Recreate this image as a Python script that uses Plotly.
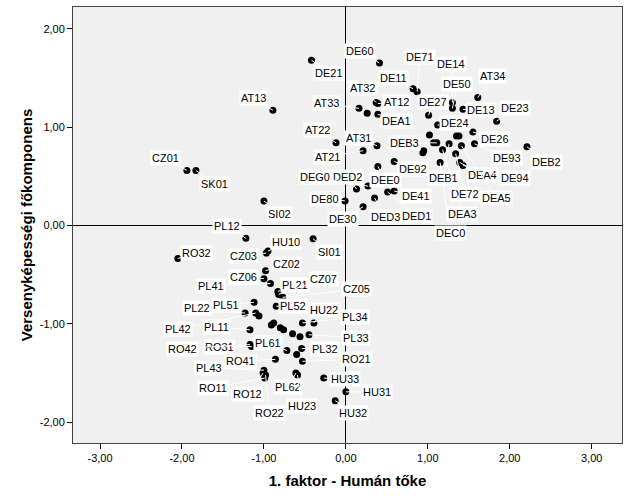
import plotly.graph_objects as go

# ---- data (x = 1. faktor, y = főkomponens) ----
labels = ["DE60","DE21","DE71","DE11","DE14","DE50","AT34","DE13","DE23","AT32","AT12","AT33","","DEA1",
          "DE27","DE24","DE26","DE93","DEB2","DEA4","DE94","DE72","DEA5","DEA3","DEC0","DEB1","DEB3","DE92",
          "","","","","","",
          "DEE0","DED2","DEG0","DE80","DE30","DED3","DED1","DE41","AT22","AT31","AT21",
          "AT13","CZ01","SK01","SI02","PL12","SI01","HU10","CZ03","RO32","CZ02","CZ06","PL41","PL21","CZ07","CZ05",
          "PL51","PL52","PL22","PL42","","HU22","PL34","PL11","","","","","","","PL33",
          "RO31","RO42","PL61","PL32","","RO21","RO41","PL43","RO12","RO11","RO22","PL62","HU23","HU33","HU31","HU32"]
xs = [0.41,-0.42,0.87,0.82,1.30,1.30,1.61,1.43,1.84,0.37,0.39,0.16,0.26,0.39,
      1.01,1.12,1.55,1.57,2.21,1.39,1.43,1.34,1.41,1.18,1.15,1.26,1.11,0.59,
      1.02,1.07,0.94,0.95,1.35,1.38,
      0.39,0.13,0.27,-0.01,0.21,0.35,0.51,0.59,-0.12,0.38,0.21,
      -0.89,-1.94,-1.83,-1.00,-1.22,-0.40,-0.95,-0.97,-2.05,-0.98,-1.00,-0.92,-0.83,-0.82,-0.77,
      -1.12,-0.85,-1.23,-1.10,-1.06,-0.39,-0.53,-1.17,-0.91,-0.88,-0.80,-0.76,-0.65,-0.56,-0.45,
      -1.15,-1.17,-0.72,-0.54,-0.60,-0.53,-0.86,-1.00,-1.01,-0.99,-0.98,-0.61,-0.59,-0.27,0.00,-0.13]
ys = [1.65,1.68,1.36,1.39,1.25,1.19,1.30,1.18,1.06,1.25,1.24,1.19,1.14,1.13,
      1.12,1.02,0.95,0.83,0.80,0.64,0.61,0.73,0.81,0.77,0.64,0.83,0.84,0.65,
      0.92,0.84,0.74,0.76,0.91,0.91,
      0.60,0.37,0.40,0.25,0.19,0.28,0.34,0.35,0.84,0.81,0.76,
      1.17,0.56,0.56,0.25,-0.13,-0.135,-0.26,-0.28,-0.335,-0.46,-0.54,-0.59,-0.67,-0.70,-0.73,
      -0.78,-0.82,-0.89,-0.89,-0.92,-0.99,-0.99,-1.06,-1.01,-0.99,-1.04,-1.06,-1.10,-1.13,-1.11,
      -1.23,-1.21,-1.27,-1.25,-1.31,-1.38,-1.36,-1.47,-1.50,-1.55,-1.52,-1.50,-1.52,-1.55,-1.69,-1.78]

tick_vals = [-3, -2, -1, 0, 1, 2, 3]
x_tick_text = ["-3,00", "-2,00", "-1,00", "0,00", "1,00", "2,00", "3,00"]
y_tick_vals = [-2, -1, 0, 1, 2]
y_tick_text = ["-2,00", "-1,00", "0,00", "1,00", "2,00"]

# label offsets in pixels (text centre relative to point)
offsets = [(-19,-12),(18,13),(3,-35),(-20,-11),(-1,-38),(5,-24),(15,-22),(18,1),(18,-13),(-14,-14),(19,-1),(-32,-5),(0,0),(19,7),
           (4,-13),(17,-2),(22,7),(32,14),(20,15),(23,12),(52,13),(9,40),(35,52),(20,64),(10,70),(-6,34),(-32,0),(19,7),
           (0,0),(0,0),(0,0),(0,0),(0,0),(0,0),
           (8,14),(-9,-12),(-53,-9),(-20,-2),(-20,12),(11,19),(29,24),(22,5),(-19,-13),(-19,-8),(-36,6),
           (-19,-12),(-21,-12),(19,14),(16,13),(-19,-12),(16,13),(18,-9),(-23,3),(19,-5),(21,-7),(-20,-2),(-59,2),(17,-6),(45,-15),(74,-8),
           (-28,3),(17,0),(-48,-5),(-78,16),(0,0),(10,-13),(53,-6),(-33,-3),(0,0),(0,0),(0,0),(0,0),(0,0),(0,0),(47,3),
           (-32,0),(-67,4),(-19,-7),(23,0),(0,0),(54,-2),(-35,2),(-55,-2),(-16,21),(-52,10),(4,38),(-8,14),(4,31),(21,1),(31,0),(18,12)]

FONT = "Liberation Sans, Arial, sans-serif"

fig = go.Figure()
fig.add_trace(go.Scatter(x=xs, y=ys, mode="markers",
                         marker=dict(color="black", size=7, line=dict(width=0)),
                         hoverinfo="skip", showlegend=False))

annotations = []
for lab, x, y, (dx, dy) in zip(labels, xs, ys, offsets):
    if not lab:
        continue
    annotations.append(dict(x=x, y=y, xref="x", yref="y", text=lab, showarrow=True,
                            ax=dx, ay=dy, axref="pixel", ayref="pixel",
                            arrowhead=0, arrowwidth=1, arrowcolor="white", standoff=0,
                            bgcolor="white", borderpad=1,
                            font=dict(family=FONT, size=11, color="black")))

fig.update_layout(
    width=629, height=504,
    margin=dict(l=73, r=7, t=7, b=61),
    paper_bgcolor="white", plot_bgcolor="#F0F0F0",
    font=dict(family=FONT, size=11, color="black"),
    annotations=annotations,
    xaxis=dict(range=[-3.33, 3.37], tickvals=tick_vals, ticktext=x_tick_text,
               showgrid=False, zeroline=True, zerolinecolor="black", zerolinewidth=1,
               showline=True, mirror=True, linecolor="#444444", linewidth=1,
               ticks="outside", ticklen=5, tickcolor="black",
               title=dict(text="<b>1. faktor - Humán tőke</b>", font=dict(size=15), standoff=12)),
    yaxis=dict(range=[-2.21, 2.22], tickvals=y_tick_vals, ticktext=y_tick_text,
               showgrid=False, zeroline=True, zerolinecolor="black", zerolinewidth=1,
               showline=True, mirror=True, linecolor="#444444", linewidth=1,
               ticks="outside", ticklen=5, tickcolor="black",
               title=dict(text="<b>Versenyképességi főkomponens</b>", font=dict(size=15), standoff=3)),
)

fig.write_html("out.html")
